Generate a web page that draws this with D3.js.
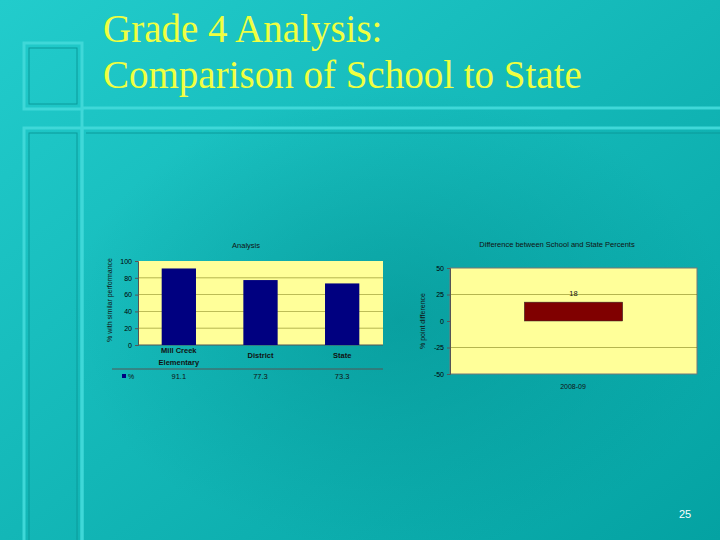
<!DOCTYPE html><html><head><meta charset="utf-8"><script src="https://cdn.jsdelivr.net/npm/d3@7"></script>
<style>body{margin:0;}svg{display:block}</style></head><body><svg id="c" width="720" height="540"></svg>
<script>
const categories=["Mill Creek|Elementary","District","State"];
const values=[91.1,77.3,73.3];
const leftTicks=[0,20,40,60,80,100];
const diffCategories=["2008-09"];
const diffValues=[17.8];
const diffLabels=["18"];
const rightTicks=[-50,-25,0,25,50];

const svg=d3.select("#c");
const defs=svg.append("defs");
const g=defs.append("linearGradient").attr("id","bg").attr("x1","0").attr("y1","0").attr("x2","1").attr("y2","1");
g.append("stop").attr("offset","0").attr("stop-color","#22cccc");
g.append("stop").attr("offset","1").attr("stop-color","#04a2a2");
const rg=defs.append("radialGradient").attr("id","rg").attr("cx","0.5").attr("cy","0.5").attr("r","0.5");
rg.append("stop").attr("offset","0").attr("stop-color","#008888").attr("stop-opacity",0.45);
rg.append("stop").attr("offset","1").attr("stop-color","#008888").attr("stop-opacity",0);
svg.append("rect").attr("width",720).attr("height",540).attr("fill","url(#bg)");
svg.append("ellipse").attr("cx",400).attr("cy",320).attr("rx",330).attr("ry",230).attr("fill","url(#rg)");
const fr=svg.append("g").attr("fill","none");
function frame(x,y,w,h){fr.append("rect").attr("x",x).attr("y",y).attr("width",w).attr("height",h).attr("stroke","#3fd8d8").attr("stroke-width",3);
 fr.append("rect").attr("x",x+5).attr("y",y+5).attr("width",w-10).attr("height",h-10).attr("stroke","#0a9a9a").attr("stroke-width",1);}
frame(24,43,58,66);frame(24,128,58,420);
fr.append("line").attr("x1",82).attr("x2",720).attr("y1",108).attr("y2",108).attr("stroke","#3fd8d8").attr("stroke-width",3);
fr.append("line").attr("x1",82).attr("x2",720).attr("y1",128).attr("y2",128).attr("stroke","#3fd8d8").attr("stroke-width",3);
fr.append("line").attr("x1",82).attr("x2",82).attr("y1",108).attr("y2",540).attr("stroke","#3fd8d8").attr("stroke-width",3);
fr.append("line").attr("x1",86).attr("x2",720).attr("y1",133).attr("y2",133).attr("stroke","#0a9a9a");
svg.append("text").attr("x",103).attr("y",42).attr("font-family","Liberation Serif").attr("font-size",39).attr("fill","#f0ff40").text("Grade 4 Analysis:");
svg.append("text").attr("x",103).attr("y",88).attr("font-family","Liberation Serif").attr("font-size",39).attr("fill","#f0ff40").text("Comparison of School to State");
svg.append("text").attr("x",685).attr("y",518).attr("text-anchor","middle").attr("font-family","Liberation Sans").attr("font-size",11).attr("fill","#fff").text("25");

const F="Liberation Sans";
const x=d3.scaleBand().domain(categories).range([138,383]).paddingInner(0.58).paddingOuter(0.29);
const y=d3.scaleLinear().domain([0,100]).range([345,261]);
svg.append("rect").attr("x",138).attr("y",261).attr("width",245).attr("height",84).attr("fill","#ffff99");
svg.append("g").selectAll("line").data(leftTicks.filter(t=>t>0&&t<100)).join("line").attr("x1",138).attr("x2",383).attr("y1",d=>y(d)).attr("y2",d=>y(d)).attr("stroke","#666600").attr("stroke-width",0.8).attr("opacity",0.6);
const ya=svg.append("g").attr("transform","translate(138,0)").call(d3.axisLeft(y).tickValues(leftTicks).tickSize(3).tickFormat(d=>String(d)));
ya.selectAll("text").attr("font-family",F).attr("font-size",7).attr("fill","#000");ya.selectAll("path,line").attr("stroke","#555");
svg.append("line").attr("x1",138).attr("x2",383).attr("y1",345).attr("y2",345).attr("stroke","#555");
svg.selectAll(".b").data(values).join("rect").attr("x",(d,i)=>x(categories[i])).attr("width",x.bandwidth()).attr("y",d=>y(d)).attr("height",d=>345-y(d)).attr("fill","#000080");
categories.forEach((c,i)=>{const p=c.split("|");p.forEach((s,j)=>svg.append("text").attr("x",x(c)+x.bandwidth()/2).attr("y",p.length>1?353+j*12:358).attr("text-anchor","middle").attr("font-family",F).attr("font-size",7.5).attr("font-weight","bold").attr("fill","#111").text(s));
 svg.append("text").attr("x",x(c)+x.bandwidth()/2).attr("y",379).attr("text-anchor","middle").attr("font-family",F).attr("font-size",7.5).attr("fill","#111").text(values[i]);});
svg.append("line").attr("x1",112).attr("x2",383).attr("y1",369).attr("y2",369).attr("stroke","#555");
svg.append("rect").attr("x",122).attr("y",374).attr("width",4).attr("height",4).attr("fill","#000080");
svg.append("text").attr("x",128).attr("y",379).attr("font-family",F).attr("font-size",7).attr("fill","#111").text("%");
svg.append("text").attr("x",246).attr("y",248).attr("text-anchor","middle").attr("font-family",F).attr("font-size",7.5).attr("fill","#111").text("Analysis");
svg.append("text").attr("transform","translate(112,300) rotate(-90)").attr("text-anchor","middle").attr("font-family",F).attr("font-size",7).attr("fill","#111").text("% with similar performance");

const x2=d3.scaleBand().domain(diffCategories).range([450,697]).padding(0.43);
const y2=d3.scaleLinear().domain([-50,50]).range([374,268]);
svg.append("rect").attr("x",450).attr("y",268).attr("width",247).attr("height",106).attr("fill","#ffff99").attr("stroke","#777");
svg.append("g").selectAll("line").data([-25,25]).join("line").attr("x1",450).attr("x2",697).attr("y1",d=>y2(d)).attr("y2",d=>y2(d)).attr("stroke","#666600").attr("stroke-width",0.8).attr("opacity",0.6);
const ya2=svg.append("g").attr("transform","translate(450,0)").call(d3.axisLeft(y2).tickValues(rightTicks).tickSize(3).tickFormat(d=>String(d)));
ya2.selectAll("text").attr("font-family",F).attr("font-size",7).attr("fill","#000");ya2.selectAll("path,line").attr("stroke","#555");
svg.selectAll(".d").data(diffValues).join("rect").attr("x",(d,i)=>x2(diffCategories[i])).attr("width",x2.bandwidth()).attr("y",d=>y2(d)).attr("height",d=>y2(0)-y2(d)).attr("fill","#800000").attr("stroke","#333").attr("stroke-width",0.5);
svg.selectAll(".dl").data(diffLabels).join("text").attr("x",(d,i)=>x2(diffCategories[i])+x2.bandwidth()/2).attr("y",(d,i)=>y2(diffValues[i])-6).attr("text-anchor","middle").attr("font-family",F).attr("font-size",7.5).attr("fill","#111").text(d=>d);
svg.append("text").attr("x",573).attr("y",389).attr("text-anchor","middle").attr("font-family",F).attr("font-size",7).attr("fill","#111").text(diffCategories[0]);
svg.append("text").attr("x",557).attr("y",247).attr("text-anchor","middle").attr("font-family",F).attr("font-size",7.5).attr("fill","#111").text("Difference between School and State Percents");
svg.append("text").attr("transform","translate(425,321) rotate(-90)").attr("text-anchor","middle").attr("font-family",F).attr("font-size",7).attr("fill","#111").text("% point difference");
</script></body></html>
